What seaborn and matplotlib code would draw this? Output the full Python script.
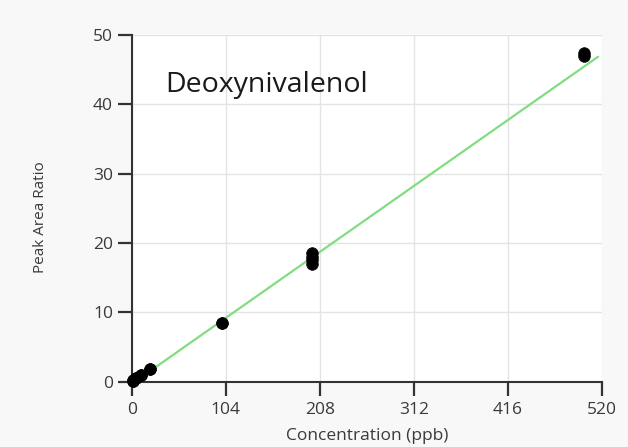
import matplotlib
matplotlib.use("Agg")
import matplotlib.pyplot as plt
import numpy as np
import pandas as pd
import seaborn as sns

# Calibration standards (ppb) and measured peak area ratios
concentration = [1, 1, 2, 5, 5, 10, 10, 20, 20, 100, 100, 200, 200, 200, 200, 500, 500]
peak_area_ratio = [0.10, 0.12, 0.20, 0.45, 0.50, 0.90, 0.95, 1.75, 1.85,
                   8.40, 8.50, 17.0, 17.5, 18.0, 18.5, 47.0, 47.4]

# Linear calibration fit
fit_slope = 0.0915
fit_intercept = -0.35
fit_range = [0, 516]

x_ticks = [0, 104, 208, 312, 416, 520]
y_ticks = [0, 10, 20, 30, 40, 50]
analyte = "Deoxynivalenol"

points = pd.DataFrame({"Concentration": concentration, "Ratio": peak_area_ratio})
fit_x = np.array(fit_range, dtype=float)
fit_line = pd.DataFrame({"Concentration": fit_x, "Ratio": fit_slope * fit_x + fit_intercept})

sns.set_theme(style="white", rc={"xtick.bottom": True, "ytick.left": True})
plt.rcParams["font.family"] = ["Open Sans", "DejaVu Sans"]

fig = plt.figure(figsize=(6.28, 4.47), dpi=100, facecolor="#f8f8f8")
ax = fig.add_axes([0.2097, 0.1465, 0.7484, 0.7752])
ax.set_facecolor("white")

sns.lineplot(data=fit_line, x="Concentration", y="Ratio", ax=ax,
             color="#82dc82", linewidth=1.6, zorder=3)
sns.scatterplot(data=points, x="Concentration", y="Ratio", ax=ax,
                color="black", s=70, edgecolor="black", linewidth=0.5,
                marker="o", zorder=4, clip_on=False)

ax.set_xlim(0, 520)
ax.set_ylim(0, 50)
ax.set_xticks(x_ticks)
ax.set_yticks(y_ticks)
ax.set_xticklabels([str(t) for t in x_ticks])
ax.set_yticklabels([str(t) for t in y_ticks])

ax.grid(True, color="#e4e4e4", linewidth=1.0, zorder=1)

for side in ("top", "right"):
    ax.spines[side].set_visible(False)
for side in ("left", "bottom"):
    ax.spines[side].set_color("#333333")
    ax.spines[side].set_linewidth(1.5)

ax.tick_params(axis="both", which="major", direction="out", length=10, width=1.6,
               color="#333333", labelcolor="#3a3a3a", labelsize=12.5,
               bottom=True, left=True)
ax.tick_params(axis="x", pad=5)
ax.tick_params(axis="y", pad=3.5)

# Make the outward tick marks explicit on every major tick
for tick in ax.xaxis.get_major_ticks() + ax.yaxis.get_major_ticks():
    tick.tick1line.set_visible(True)
    tick.tick1line.set_markersize(10)
    tick.tick1line.set_markeredgewidth(1.6)
    tick.tick1line.set_color("#333333")
    tick.tick1line.set_zorder(6)
    tick.set_zorder(6)

ax.set_xlabel("Concentration (ppb)", fontsize=12.5, color="#3a3a3a", labelpad=7)
ax.set_ylabel("Peak Area Ratio", fontsize=11, color="#3a3a3a", labelpad=32)
ax.yaxis.label.set_y(0.475)

ax.text(0.071, 0.856, analyte, transform=ax.transAxes, fontsize=20.5,
        color="#1a1a1a", ha="left", va="center")

fig.savefig("out.png", dpi=100, facecolor=fig.get_facecolor())
